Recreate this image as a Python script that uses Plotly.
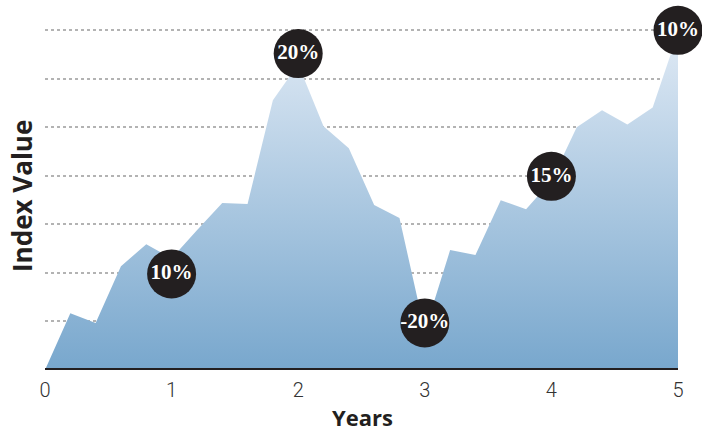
import plotly.graph_objects as go

# Data
years = [0, 0.2, 0.4, 0.6, 0.8, 1.0, 1.2, 1.4, 1.6, 1.8, 2.0, 2.2, 2.4, 2.6, 2.8,
         3.0, 3.2, 3.4, 3.6, 3.8, 4.0, 4.2, 4.4, 4.6, 4.8, 5.0]
index_value = [0, 1.17, 0.97, 2.14, 2.59, 2.3, 2.88, 3.44, 3.42, 5.56, 6.3, 5.02, 4.57,
               3.4, 3.13, 0.8, 2.47, 2.37, 3.5, 3.31, 3.9, 5.0, 5.35, 5.06, 5.41, 6.95]

marker_years = [1, 2, 3, 4, 5]
marker_values = [1.98, 6.52, 0.97, 3.99, 7.0]
marker_labels = ["10%", "20%", "-20%", "15%", "10%"]

grid_values = [1, 2, 3, 4, 5, 6, 7]
x_ticks = [0, 1, 2, 3, 4, 5]
x_tick_labels = ["0", "1", "2", "3", "4", "5"]

W, H = 702, 431
l, r, t, b = 45, 24, 6, 61
pw, ph = W - l - r, H - t - b

fig = go.Figure()

fig.add_trace(go.Scatter(
    x=years, y=index_value, mode="lines", line=dict(width=0, color="rgba(0,0,0,0)"),
    fill="tozeroy",
    fillgradient=dict(type="vertical", start=0, stop=7,
                      colorscale=[[0, "#78a7cd"], [1, "#e0eaf5"]]),
    hoverinfo="skip", showlegend=False,
))

# baseline
fig.add_trace(go.Scatter(
    x=[0, 5], y=[0, 0], mode="lines", line=dict(color="#231f20", width=4),
    hoverinfo="skip", showlegend=False, cliponaxis=False,
))

fig.add_trace(go.Scatter(
    x=marker_years, y=marker_values, mode="markers+text",
    marker=dict(size=49, color="#231f20", line=dict(width=0)),
    text=marker_labels, textposition="middle center",
    textfont=dict(family="Liberation Serif", size=21, color="white", weight="bold"),
    cliponaxis=False, showlegend=False, hoverinfo="skip",
))

fig.update_layout(
    width=W, height=H,
    margin=dict(l=l, r=r, t=t, b=b),
    paper_bgcolor="white", plot_bgcolor="white",
    showlegend=False,
    xaxis=dict(range=[0, 5], tickvals=x_ticks, ticktext=x_tick_labels,
               showgrid=False, zeroline=False, showline=False, ticks="",
               tickfont=dict(family="Roboto", size=20, color="#333333", weight=300),
               ticklabelstandoff=6),
    yaxis=dict(range=[0, 7.5], tickvals=grid_values, showticklabels=False,
               showgrid=True, gridcolor="#b3b3b3", gridwidth=2, griddash="dot",
               zeroline=False, showline=False, ticks=""),
    annotations=[
        dict(text="Years", x=(362 - l) / pw, y=(H - 417 - b) / ph,
             xref="paper", yref="paper", xanchor="center", yanchor="middle",
             showarrow=False,
             font=dict(family="Open Sans", size=22, color="#231f20", weight="bold")),
        dict(text="Index Value", x=(22 - l) / pw, y=(H - 196 - b) / ph,
             xref="paper", yref="paper", xanchor="center", yanchor="middle",
             showarrow=False, textangle=-90,
             font=dict(family="Open Sans", size=26, color="#231f20", weight="bold")),
    ],
)

fig.write_html("out.html")
